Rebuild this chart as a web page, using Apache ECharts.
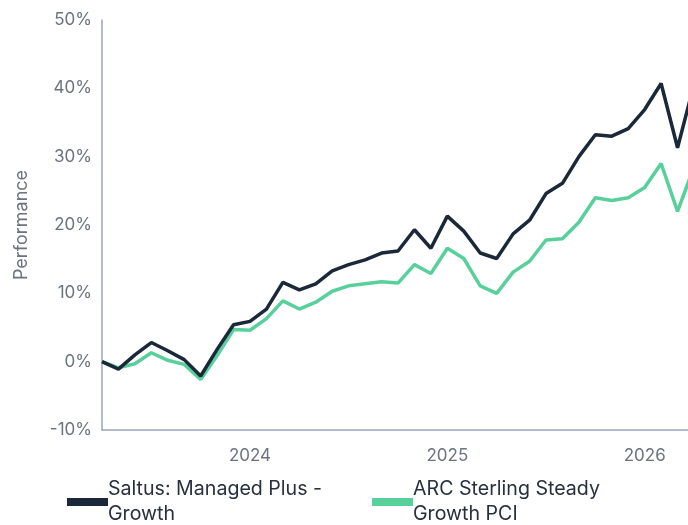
<!DOCTYPE html>
<html>
<head>
<meta charset="utf-8">
<script src="https://cdn.jsdelivr.net/npm/echarts@6/dist/echarts.min.js"></script>
<style>
  html, body { margin: 0; padding: 0; background: #fff; }
  #chart { width: 688px; height: 525px; }
</style>
</head>
<body>
<div id="chart"></div>
<script>
// monthly points, Apr 2023 .. Apr 2026
var months = [
  "2023-04", "2023-05", "2023-06", "2023-07", "2023-08", "2023-09",
  "2023-10", "2023-11", "2023-12", "2024-01", "2024-02", "2024-03",
  "2024-04", "2024-05", "2024-06", "2024-07", "2024-08", "2024-09",
  "2024-10", "2024-11", "2024-12", "2025-01", "2025-02", "2025-03",
  "2025-04", "2025-05", "2025-06", "2025-07", "2025-08", "2025-09",
  "2025-10", "2025-11", "2025-12", "2026-01", "2026-02", "2026-03",
  "2026-04"
];
var saltus = [
  0, -1.1, 1.0, 2.8, 1.6, 0.3, -2.1, 1.8, 5.4, 5.9, 7.7, 11.6,
  10.5, 11.4, 13.3, 14.2, 14.9, 15.9, 16.2, 19.3, 16.6, 21.3, 19.1, 15.9,
  15.1, 18.7, 20.7, 24.6, 26.1, 30.0, 33.2, 33.0, 34.1, 36.9, 40.7, 31.3,
  40.6
];
var arc = [
  0, -0.9, -0.3, 1.3, 0.2, -0.4, -2.6, 0.9, 4.7, 4.6, 6.3, 8.9,
  7.7, 8.7, 10.3, 11.1, 11.4, 11.7, 11.5, 14.2, 12.9, 16.6, 15.1, 11.1,
  10.0, 13.1, 14.7, 17.8, 18.0, 20.4, 24.0, 23.6, 24.0, 25.5, 29.0, 22.0,
  28.5
];
var seriesNames = ["Saltus: Managed Plus - Growth", "ARC Sterling Steady Growth PCI"];
var legendLines = {
  "Saltus: Managed Plus - Growth": "Saltus: Managed Plus -\nGrowth",
  "ARC Sterling Steady Growth PCI": "ARC Sterling Steady\nGrowth PCI"
};
var colors = ["#1b2839", "#57d09b"];

var chart = echarts.init(document.getElementById("chart"));
var axisColor = "#9aa5bb";
var labelColor = "#6b7280";
var font = "Inter, 'Noto Sans', sans-serif";

function legendFor(name, left) {
  return {
    data: [name],
    left: left,
    top: 472,
    orient: "horizontal",
    icon: "rect",
    itemWidth: 41,
    itemHeight: 8,
    formatter: function (n) { return legendLines[n]; },
    textStyle: {
      color: "#27303f",
      fontSize: 19.6,
      fontFamily: font,
      lineHeight: 25,
      padding: [0, 0, 0, -5]
    }
  };
}

var option = {
  animation: false,
  // plot runs past the right edge, lines get cut off like in the source
  grid: {
    left: 102, width: 592, top: 20, bottom: 95,
    containLabel: false, outerBoundsMode: "none"
  },
  legend: [legendFor(seriesNames[0], 62), legendFor(seriesNames[1], 367)],
  xAxis: {
    type: "category",
    data: months,
    boundaryGap: false,
    axisLine: { onZero: false, lineStyle: { color: axisColor, width: 1.5 } },
    axisTick: { show: false },
    splitLine: { show: false },
    axisLabel: {
      interval: function (i, v) { return v.slice(5) === "01"; },
      formatter: function (v) { return v.slice(0, 4); },
      color: labelColor,
      fontSize: 17,
      fontFamily: font,
      margin: 17
    }
  },
  yAxis: {
    type: "value",
    min: -10,
    max: 50,
    interval: 10,
    name: "Performance",
    nameLocation: "middle",
    nameGap: 71,
    nameTextStyle: {
      color: labelColor,
      fontSize: 18,
      fontFamily: font
    },
    axisLine: { show: true, lineStyle: { color: axisColor, width: 1.5 } },
    axisTick: { show: false },
    splitLine: { show: false },
    axisLabel: {
      formatter: "{value}%",
      color: labelColor,
      fontSize: 17,
      fontFamily: font,
      margin: 10
    }
  },
  series: [
    {
      name: seriesNames[0],
      type: "line",
      data: saltus,
      showSymbol: false,
      symbol: "none",
      lineStyle: { width: 3.5, color: colors[0] },
      itemStyle: { color: colors[0] },
      z: 3
    },
    {
      name: seriesNames[1],
      type: "line",
      data: arc,
      showSymbol: false,
      symbol: "none",
      lineStyle: { width: 3.5, color: colors[1] },
      itemStyle: { color: colors[1] },
      z: 2
    }
  ]
};
chart.setOption(option);
</script>
</body>
</html>
